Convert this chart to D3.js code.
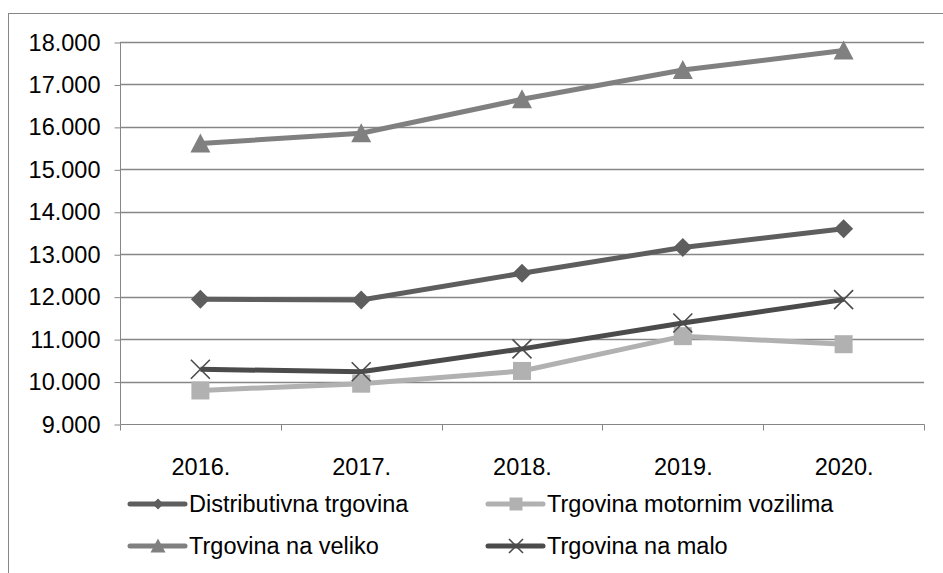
<!DOCTYPE html>
<html>
<head>
<meta charset="utf-8">
<script src="https://cdn.jsdelivr.net/npm/d3@7"></script>
<style>
  body { margin: 0; background: #fff; }
  svg { font-family: "Liberation Sans", Arial, sans-serif; }
</style>
</head>
<body>
<div id="chart"></div>
<script>
// data
const years = ["2016.", "2017.", "2018.", "2019.", "2020."];
const distributivna = [11940, 11920, 12550, 13160, 13600];
const motorna = [9790, 9950, 10250, 11070, 10880];
const veliko = [15610, 15850, 16650, 17340, 17800];
const malo = [10290, 10230, 10770, 11380, 11930];
const yTicks = [9000, 10000, 11000, 12000, 13000, 14000, 15000, 16000, 17000, 18000];

const series = [
  {name: "Distributivna trgovina", values: distributivna, color: "#5e5e5e", marker: "diamond"},
  {name: "Trgovina motornim vozilima", values: motorna, color: "#b1b1b1", marker: "square"},
  {name: "Trgovina na veliko", values: veliko, color: "#808080", marker: "triangle"},
  {name: "Trgovina na malo", values: malo, color: "#4b4b4b", marker: "cross"}
];

const W = 943, H = 573;
const plot = {left: 120, right: 924, top: 42, bottom: 424};
const fontSize = 23.5;

const svg = d3.select("#chart").append("svg")
    .attr("width", W)
    .attr("height", H);

// outer chart border (cut off at right and bottom)
svg.append("rect")
    .attr("x", 8.5).attr("y", 13.5)
    .attr("width", W + 20).attr("height", H + 20)
    .attr("fill", "none")
    .attr("stroke", "#868686")
    .attr("stroke-width", 1);

const x = d3.scaleBand()
    .domain(years)
    .range([plot.left, plot.right]);

const y = d3.scaleLinear()
    .domain([9000, 18000])
    .range([plot.bottom, plot.top]);

const fmt = d => d3.format(",.0f")(d).replace(/,/g, ".");

// gridlines
svg.append("g")
    .selectAll("line")
    .data(yTicks.slice(1))
    .join("line")
    .attr("x1", plot.left).attr("x2", plot.right)
    .attr("y1", d => Math.round(y(d)) + 0.5)
    .attr("y2", d => Math.round(y(d)) + 0.5)
    .attr("stroke", "#868686")
    .attr("stroke-width", 1.3);

// y axis
const yAxis = svg.append("g")
    .attr("transform", `translate(${plot.left + 0.5},0.5)`)
    .call(d3.axisLeft(y).tickValues(yTicks).tickFormat(fmt).tickSize(6).tickPadding(14));
yAxis.select(".domain").attr("stroke", "#868686").attr("d", `M0,${plot.top}V${plot.bottom}`);
yAxis.selectAll(".tick line").attr("stroke", "#868686");
yAxis.selectAll(".tick text").attr("font-size", fontSize).attr("fill", "#000")
    .attr("font-family", "Liberation Sans, Arial, sans-serif");

// x axis
const xAxis = svg.append("g")
    .attr("transform", `translate(0.5,${plot.bottom + 0.5})`)
    .call(d3.axisBottom(x).tickSize(0).tickPadding(50));
xAxis.select(".domain").attr("stroke", "#868686").attr("d", `M${plot.left},0H${plot.right}`);
xAxis.selectAll(".tick text").attr("font-size", fontSize).attr("fill", "#000")
    .attr("font-family", "Liberation Sans, Arial, sans-serif")
    .attr("dy", "0");
// tick marks at category boundaries
xAxis.append("g")
    .selectAll("line")
    .data(years.concat(["end"]))
    .join("line")
    .attr("x1", (d, i) => Math.round(plot.left + i * x.step()))
    .attr("x2", (d, i) => Math.round(plot.left + i * x.step()))
    .attr("y1", 0).attr("y2", 6)
    .attr("stroke", "#868686");

const cx = d => x(d) + x.bandwidth() / 2;

function drawMarker(g, type, color, size) {
  const s = size * 0.5;
  if (type === "diamond") {
    g.append("path").attr("d", `M0,${-s}L${s},0L0,${s}L${-s},0Z`).attr("fill", color);
  } else if (type === "square") {
    g.append("rect").attr("x", -s).attr("y", -s).attr("width", 2 * s).attr("height", 2 * s).attr("fill", color);
  } else if (type === "triangle") {
    g.append("path").attr("d", `M0,${-s - 1}L${s + 1},${s}L${-s - 1},${s}Z`).attr("fill", color);
  } else if (type === "cross") {
    g.append("path").attr("d", `M${-s},${-s}L${s},${s}M${-s},${s}L${s},${-s}`)
        .attr("stroke", color).attr("stroke-width", 1.6).attr("fill", "none");
  }
}

const markerSize = {diamond: 19, square: 18, triangle: 18, cross: 19};

const line = d3.line()
    .x((d, i) => cx(years[i]))
    .y(d => y(d));

series.forEach(s => {
  const g = svg.append("g");
  g.append("path")
      .datum(s.values)
      .attr("d", line)
      .attr("fill", "none")
      .attr("stroke", s.color)
      .attr("stroke-width", 5);
  s.values.forEach((v, i) => {
    const m = g.append("g").attr("transform", `translate(${cx(years[i])},${y(v)})`);
    drawMarker(m, s.marker, s.color, markerSize[s.marker]);
  });
});

// legend
const legendPos = [
  {x: 130, y: 504}, {x: 488, y: 504},
  {x: 130, y: 546}, {x: 488, y: 546}
];
series.forEach((s, k) => {
  const p = legendPos[k];
  const g = svg.append("g").attr("transform", `translate(${p.x},${p.y})`);
  g.append("line")
      .attr("x1", 0).attr("x2", 55)
      .attr("y1", 0).attr("y2", 0)
      .attr("stroke", s.color)
      .attr("stroke-width", 5)
      .attr("stroke-linecap", "round");
  const m = g.append("g").attr("transform", "translate(28,0)");
  drawMarker(m, s.marker, s.color, s.marker === "cross" ? 14 : (s.marker === "diamond" ? 11 : 13));
  g.append("text")
      .attr("x", 59)
      .attr("y", 0)
      .attr("dy", "0.35em")
      .attr("font-size", fontSize)
      .attr("fill", "#000")
      .text(s.name);
});
</script>
</body>
</html>
